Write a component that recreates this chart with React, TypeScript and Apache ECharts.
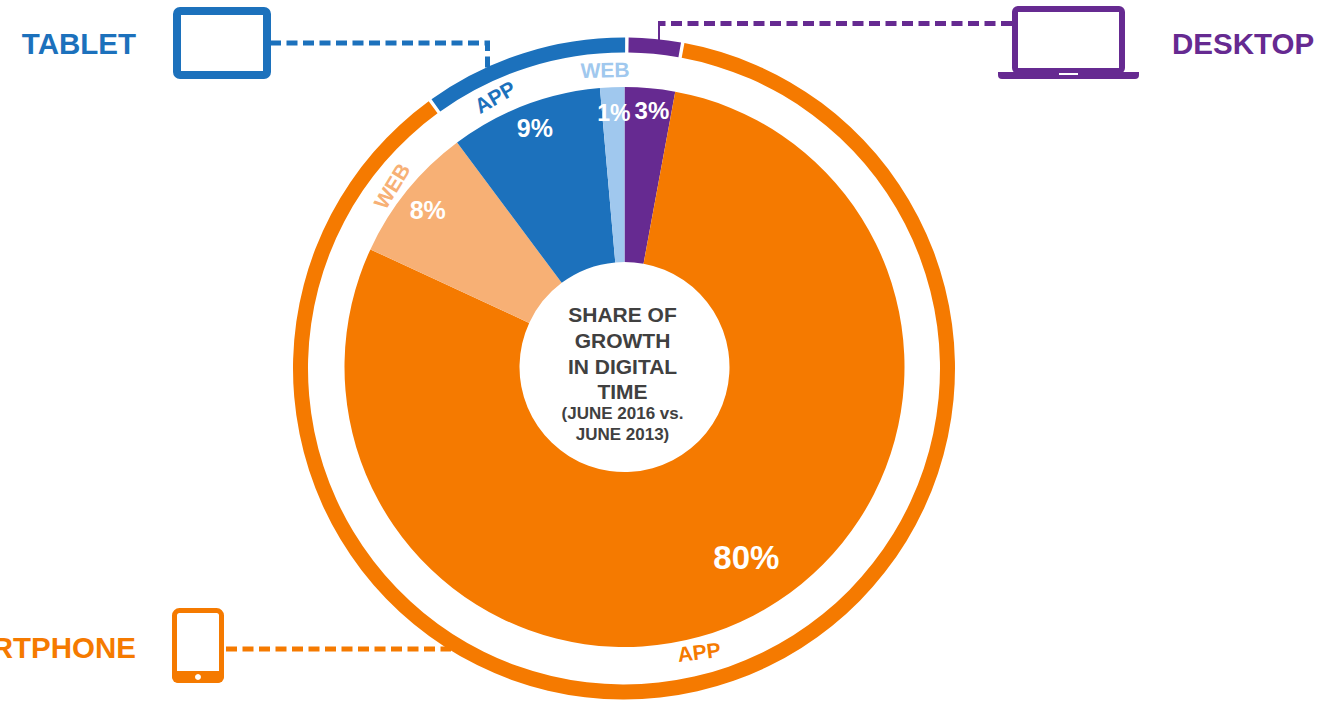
import React, { useEffect, useRef } from "react";
import * as echarts from "echarts";

const ORANGE = "#f57a00";
const LIGHT_ORANGE = "#f7b075";
const BLUE = "#1c71bc";
const LIGHT_BLUE = "#a0c8ee";
const PURPLE = "#662a91";
const FONT = '"Liberation Sans", Arial, sans-serif';

const innerNames = ["Desktop", "Smartphone app", "Smartphone web", "Tablet app", "Tablet web"];
const innerValues = [2.9, 79, 7.9, 8.8, 1.4];
const innerLabels = ["3%", "80%", "8%", "9%", "1%"];
const innerColors = [PURPLE, ORANGE, LIGHT_ORANGE, BLUE, LIGHT_BLUE];
const innerFontSizes = [24, 33, 25, 25, 23];
const innerLabelOffsets = [[9.6, -62], [32, 17], [-45, -34], [-20, -56], [-2, -59]];

const outerNames = ["Desktop", "Smartphone", "Tablet"];
const outerValues = [2.7, 87.2, 10.1];
const outerColors = [PURPLE, ORANGE, BLUE];

const centerTitle = ["SHARE OF", "GROWTH", "IN DIGITAL", "TIME"];
const centerTitleY = [314, 340, 366, 391];
const centerNote = ["(JUNE 2016 vs.", "JUNE 2013)"];
const centerNoteY = [413, 434];

function txt(text: string, x: number, y: number, fill: string, size: number, align = "center", rotation = 0, weight = "bold") {
  return {
    type: "text", x, y, rotation, z: 20,
    style: { text, fill, font: `${weight} ${size}px ${FONT}`, textAlign: align, textVerticalAlign: "middle" },
  };
}
function dash(points: number[][], color: string, lineWidth = 5, lineDash: number[] = [11, 5.5]) {
  return {
    type: "polyline", z: 5,
    shape: { points },
    style: { fill: "none", stroke: color, lineWidth, lineDash },
  };
}
function frame(x: number, y: number, w: number, h: number, color: string, lineWidth: number, r: number) {
  return {
    type: "rect", z: 6,
    shape: { x: x + lineWidth / 2, y: y + lineWidth / 2, width: w - lineWidth, height: h - lineWidth, r },
    style: { fill: "#fff", stroke: color, lineWidth },
  };
}
function solid(x: number, y: number, w: number, h: number, color: string, r: number | number[] = 0) {
  return { type: "rect", z: 7, shape: { x, y, width: w, height: h, r }, style: { fill: color } };
}

export default function App() {
  const ref = useRef<HTMLDivElement>(null);
  useEffect(() => {
    const chart = echarts.init(ref.current!, undefined, { renderer: "svg" });
    chart.setOption({
      animation: false,
      backgroundColor: "#fff",
      series: [
        {
          type: "pie", silent: true, center: [624.5, 367], radius: [105, 280], startAngle: 90, clockwise: true,
          labelLine: { show: false },
          data: innerNames.map((name, i) => ({
            name, value: innerValues[i],
            itemStyle: { color: innerColors[i] },
            label: {
              show: true, position: "inside", formatter: innerLabels[i], color: "#fff",
              fontFamily: FONT, fontWeight: "bold", fontSize: innerFontSizes[i], offset: innerLabelOffsets[i],
            },
          })),
        },
        {
          type: "pie", silent: true, center: [624, 368.5], radius: [316, 331], startAngle: 89.5, clockwise: true,
          padAngle: 0.6, label: { show: false }, labelLine: { show: false },
          data: outerNames.map((name, i) => ({ name, value: outerValues[i], itemStyle: { color: outerColors[i] } })),
        },
      ],
      graphic: [
        ...centerTitle.map((t, i) => txt(t, 622.5, centerTitleY[i], "#404040", 21)),
        ...centerNote.map((t, i) => txt(t, 622.5, centerNoteY[i], "#404040", 17)),

        txt("WEB", 392, 186, LIGHT_ORANGE, 21, "center", 1.02),
        txt("APP", 495, 97, BLUE, 21, "center", 0.52),
        txt("WEB", 605, 70, LIGHT_BLUE, 21, "center", 0.02),
        txt("APP", 699, 652, ORANGE, 21, "center", 0.12),

        txt("TABLET", 136, 43, BLUE, 29.5, "right"),
        dash([[270, 43], [487.5, 43], [487.5, 68]], BLUE),
        frame(173, 7, 98, 72, BLUE, 8, 3),

        txt("DESKTOP", 1172, 43, PURPLE, 29.5, "left"),
        dash([[1012, 23.5], [658, 23.5]], PURPLE),
        { type: "line", z: 5, shape: { x1: 659, y1: 25, x2: 659, y2: 40 }, style: { stroke: PURPLE, lineWidth: 2 } },
        frame(1012, 6, 113, 68, PURPLE, 6, 3),
        solid(998, 72, 141, 7, PURPLE, [0, 0, 4, 4]),
        solid(1059, 73, 19, 2, "#fff"),

        txt("SMARTPHONE", 136, 647, ORANGE, 29.5, "right"),
        dash([[226, 649], [451, 649]], ORANGE),
        frame(172, 608, 52, 75, ORANGE, 5, 5),
        solid(172, 671, 52, 12, ORANGE, [0, 0, 6, 6]),
        { type: "circle", z: 8, shape: { cx: 198, cy: 677, r: 3 }, style: { fill: "#fff" } },
      ],
    });
    return () => chart.dispose();
  }, []);
  return <div ref={ref} style={{ position: "fixed", left: 0, top: 0, width: 1319, height: 701 }} />;
}
